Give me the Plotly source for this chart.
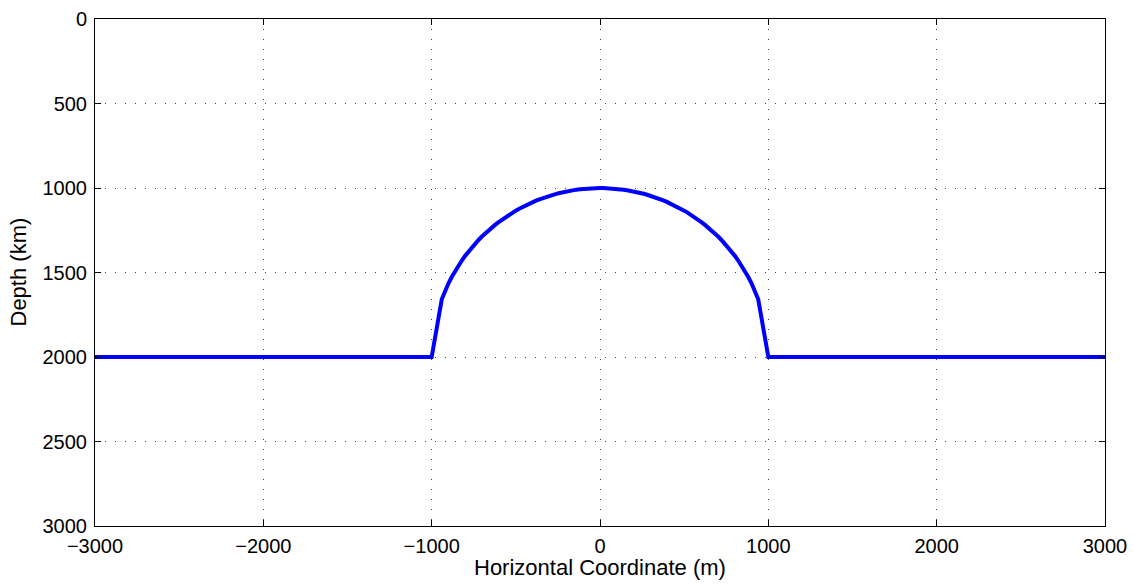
import plotly.graph_objects as go

# data: flat interface at 2000 with a semicircular dome of radius 1000
x_left = [-3000, -1000]
x_dome = [-940, -920, -900, -880, -860, -840, -820, -800, -780, -760, -740, -720, -700, -680, -660, -640,
          -620, -600, -580, -560, -540, -520, -500, -480, -460, -440, -420, -400, -380, -360, -340, -320,
          -300, -280, -260, -240, -220, -200, -180, -160, -140, -120, -100, -80, -60, -40, -20, 0,
          20, 40, 60, 80, 100, 120, 140, 160, 180, 200, 220, 240, 260, 280, 300, 320, 340, 360, 380,
          400, 420, 440, 460, 480, 500, 520, 540, 560, 580, 600, 620, 640, 660, 680, 700, 720, 740,
          760, 780, 800, 820, 840, 860, 880, 900, 920, 940]
x_right = [1000, 3000]
depth_left = [2000, 2000]
depth_dome = [2000 - (1000**2 - v**2) ** 0.5 for v in x_dome]
depth_right = [2000, 2000]

xs = x_left + x_dome + x_right
ys = depth_left + depth_dome + depth_right

x_ticks = [-3000, -2000, -1000, 0, 1000, 2000, 3000]
y_ticks = [0, 500, 1000, 1500, 2000, 2500, 3000]

x_title = "Horizontal Coordinate (m)"
y_title = "Depth (km)"

fig = go.Figure()
fig.add_trace(go.Scatter(x=xs, y=ys, mode="lines", line=dict(color="#0000ff", width=4),
                         showlegend=False, hoverinfo="skip"))

font = dict(family="Liberation Sans", size=20, color="black")
title_font = dict(family="Liberation Sans", size=22, color="black")
axis_common = dict(
    showline=True, linecolor="black", linewidth=1, mirror="ticks",
    ticks="inside", ticklen=6, tickcolor="black",
    showgrid=True, gridcolor="#444444", gridwidth=1, griddash="1px,9px",
    zeroline=False, tickfont=font, automargin=False, ticklabeloverflow="allow",
)
fig.update_xaxes(range=[-3000, 3000], tickvals=x_ticks, ticklabelstandoff=2, **axis_common)
fig.update_yaxes(range=[3000, 0], tickvals=y_ticks, ticklabelstandoff=3, **axis_common)

fig.add_annotation(text=x_title, xref="paper", yref="paper", x=0.5, y=0,
                   xanchor="center", yanchor="top", yshift=-27, showarrow=False, font=title_font)
fig.add_annotation(text=y_title, xref="paper", yref="paper", x=0, y=0.5,
                   xanchor="center", yanchor="middle", xshift=-77, textangle=-90,
                   showarrow=False, font=title_font)

fig.update_layout(
    width=1134, height=587,
    margin=dict(l=95, r=29, t=19, b=61),
    plot_bgcolor="white", paper_bgcolor="white",
    font=font,
)
fig.write_html("out.html", config={"displayModeBar": False},
               post_script="document.body.style.margin='0';document.body.style.overflow='hidden';")
